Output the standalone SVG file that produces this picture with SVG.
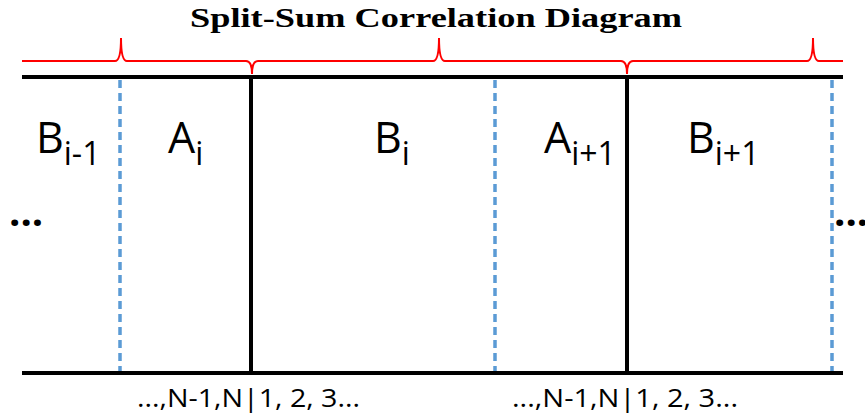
<svg xmlns="http://www.w3.org/2000/svg" width="865" height="417" viewBox="0 0 865 417">
<style>
.title{font-family:"Liberation Serif",serif;font-weight:bold;font-size:27px;fill:#000}
.lbl{font-family:"Open Sans","Liberation Sans",sans-serif;font-size:43px;fill:#000}
.sub{font-size:32px}
.dots{font-family:"Open Sans","Liberation Sans",sans-serif;font-size:40px;font-weight:bold;fill:#000}
.idx{font-family:"Open Sans","Liberation Sans",sans-serif;font-size:26px;fill:#000}
.solid{stroke:#000;stroke-width:4;fill:none}
.dash{stroke:#5B9BD5;stroke-width:3.5;stroke-dasharray:8 5;fill:none}
.brace{stroke:#FF0000;stroke-width:2;fill:none}
</style>
<text class="title" x="436" y="27" text-anchor="middle" textLength="492" lengthAdjust="spacingAndGlyphs">Split-Sum Correlation Diagram</text>
<g id="connectors">
<path class="brace" d="M22,61 H115 Q121,61 121,38 Q121,61 127,61 H246 Q252,61 252,74 Q252,61 258,61 H433 Q439,61 439,38 Q439,61 445,61 H621 Q627,61 627,74 Q627,61 633,61 H807 Q813,61 813,38 Q813,61 819,61 H843"/>
<line class="solid" x1="22" y1="77" x2="843" y2="77"/>
<line class="solid" x1="22" y1="373" x2="843" y2="373"/>
<line class="solid" x1="251" y1="77" x2="251" y2="373"/>
<line class="solid" x1="627" y1="77" x2="627" y2="373"/>
<line class="dash" x1="120" y1="80" x2="120" y2="371"/>
<line class="dash" x1="495" y1="80" x2="495" y2="371"/>
<line class="dash" x1="832" y1="80" x2="832" y2="371"/>
</g>
<g id="B_im1"><text class="lbl" x="36" y="153">B<tspan class="sub" dy="12">i-1</tspan></text></g>
<g id="A_i"><text class="lbl" x="168" y="153">A<tspan class="sub" dy="12">i</tspan></text></g>
<g id="B_i"><text class="lbl" x="374" y="153">B<tspan class="sub" dy="12">i</tspan></text></g>
<g id="A_ip1"><text class="lbl" x="544" y="153">A<tspan class="sub" dy="12">i+1</tspan></text></g>
<g id="B_ip1"><text class="lbl" x="687" y="153">B<tspan class="sub" dy="12">i+1</tspan></text></g>
<g id="dots_left"><text class="dots" x="9" y="226">...</text></g>
<g id="dots_right"><text class="dots" x="834" y="226">...</text></g>
<g id="idx1"><text class="idx" x="137" y="407" textLength="223" lengthAdjust="spacingAndGlyphs">...,N-1,N|1, 2, 3...</text></g>
<g id="idx2"><text class="idx" x="512" y="407" textLength="226" lengthAdjust="spacingAndGlyphs">...,N-1,N|1, 2, 3...</text></g>
</svg>
